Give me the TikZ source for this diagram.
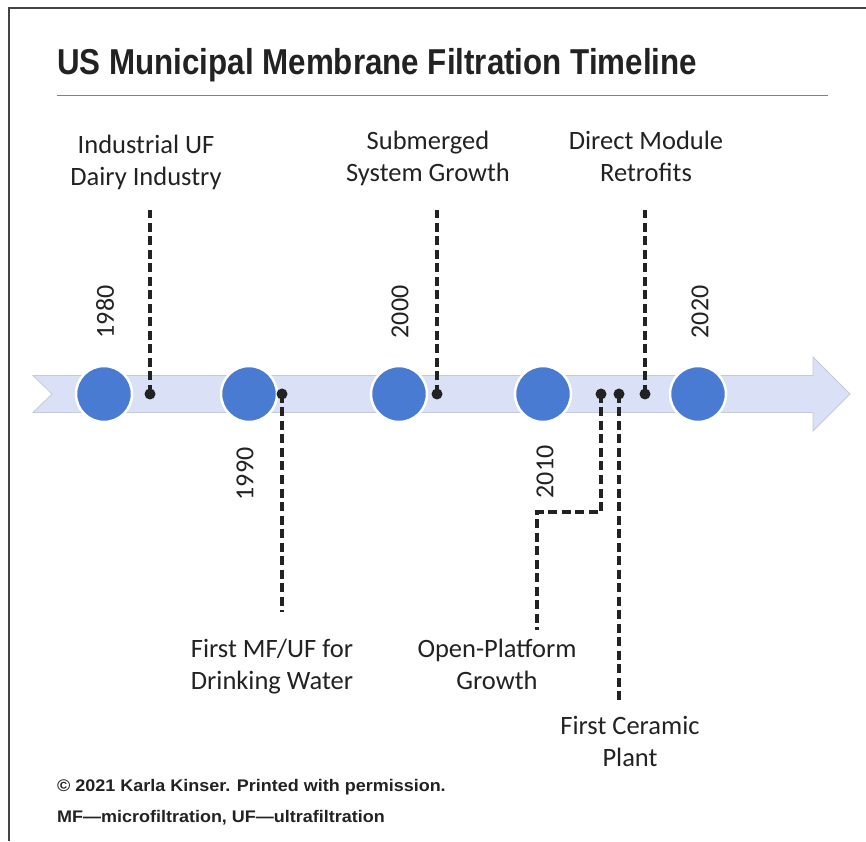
\documentclass[tikz,border=0pt]{standalone}
\usepackage{fontspec}
\setmainfont{Carlito}
\newfontfamily\headfont{Liberation Sans}[FakeStretch=0.87]
\newfontfamily\notefont{Liberation Sans}[FakeStretch=1.07]
\usepackage{xcolor}
\usepackage{tikz}

\definecolor{bandfill}{HTML}{DAE1F6}
\definecolor{bandline}{HTML}{C5CAD8}
\definecolor{yearblue}{HTML}{4A7BD3}
\definecolor{inkgray}{HTML}{222222}
\definecolor{framegray}{HTML}{444444}

\begin{document}
\begin{tikzpicture}[
    x=1pt, y=1pt,
    year/.style={circle, fill=yearblue, draw=white, line width=2.5pt, minimum size=56pt, inner sep=0pt},
    dot/.style={circle, fill=inkgray, inner sep=0pt, minimum size=11pt},
    leader/.style={inkgray, line width=3.5pt, dash pattern=on 9pt off 4.5pt, line join=miter},
    label/.style={align=center, text=inkgray, font=\fontsize{26.5}{32}\selectfont, inner sep=0pt},
    yearlabel/.style={rotate=90, text=inkgray, font=\fontsize{26}{32}\selectfont, inner sep=0pt},
    note/.style={anchor=base west, text=inkgray, font=\notefont\bfseries\fontsize{16.8}{19}\selectfont, inner sep=0pt},
]
\useasboundingbox (0,0) rectangle (866,841);

% frame and title
\draw[framegray, line width=1.5pt] (9,0) -- (9,833) -- (866,833);
\node[anchor=base west, inner sep=0pt, text=inkgray, font=\headfont\bfseries\fontsize{36}{40}\selectfont] (title) at (57,766)
    {US Municipal Membrane Filtration Timeline};
\draw[gray, line width=1pt] (57,745) -- (828,745);

% timeline band
\draw[fill=bandfill, draw=bandline, line width=0.8pt]
    (33,465.5) -- (813,465.5) -- (813,484) -- (850,447) -- (813,410) -- (813,428.5)
    -- (33,428.5) -- (52,447) -- cycle;

% decades
\node[year] (y1980) at (104,447) {};
\node[year] (y1990) at (249,447) {};
\node[year] (y2000) at (399,447) {};
\node[year] (y2010) at (543,447) {};
\node[year] (y2020) at (698,447) {};

\node[yearlabel] (t1980) at (105,529) {1980};
\node[yearlabel] (t1990) at (245,367) {1990};
\node[yearlabel] (t2000) at (400,529) {2000};
\node[yearlabel] (t2010) at (545,369) {2010};
\node[yearlabel] (t2020) at (700,529) {2020};

% events
\node[dot] (dairy) at (150,447) {};
\node[dot] (mfuf) at (282,447) {};
\node[dot] (submerged) at (437,447) {};
\node[dot] (open) at (601,447) {};
\node[dot] (ceramic) at (619,447) {};
\node[dot] (retrofit) at (645,447) {};

\coordinate (dairy-end) at (150,631);
\coordinate (mfuf-end) at (282,229);
\coordinate (submerged-end) at (437,631);
\coordinate (open-bend) at (537,329);
\coordinate (open-end) at (537,211);
\coordinate (ceramic-end) at (619,141);
\coordinate (retrofit-end) at (645,631);

\draw[leader] (dairy.center) -- (dairy-end);
\draw[leader] (mfuf.center) -- (mfuf-end);
\draw[leader] (submerged.center) -- (submerged-end);
\draw[leader] (open.center) |- (open-bend) -- (open-end);
\draw[leader] (ceramic.center) -- (ceramic-end);
\draw[leader] (retrofit.center) -- (retrofit-end);

\node[label] (l-dairy) at (146,679) {Industrial UF\\Dairy Industry};
\node[label] (l-submerged) at (428,683) {Submerged\\System Growth};
\node[label] (l-retrofit) at (646,685) {Direct Module\\Retrofits};
\node[label] (l-mfuf) at (272,174) {First MF/UF for\\Drinking Water};
\node[label] (l-open) at (497,177) {Open-Platform\\Growth};
\node[label] (l-ceramic) at (630,100) {First Ceramic\\Plant};

% footer
\node[note] (credit) at (57,50) {\textcopyright{} 2021 Karla Kinser. Printed with permission.};
\node[note] (abbrev) at (57,19) {MF\textemdash microfiltration, UF\textemdash ultrafiltration};
\end{tikzpicture}
\end{document}
